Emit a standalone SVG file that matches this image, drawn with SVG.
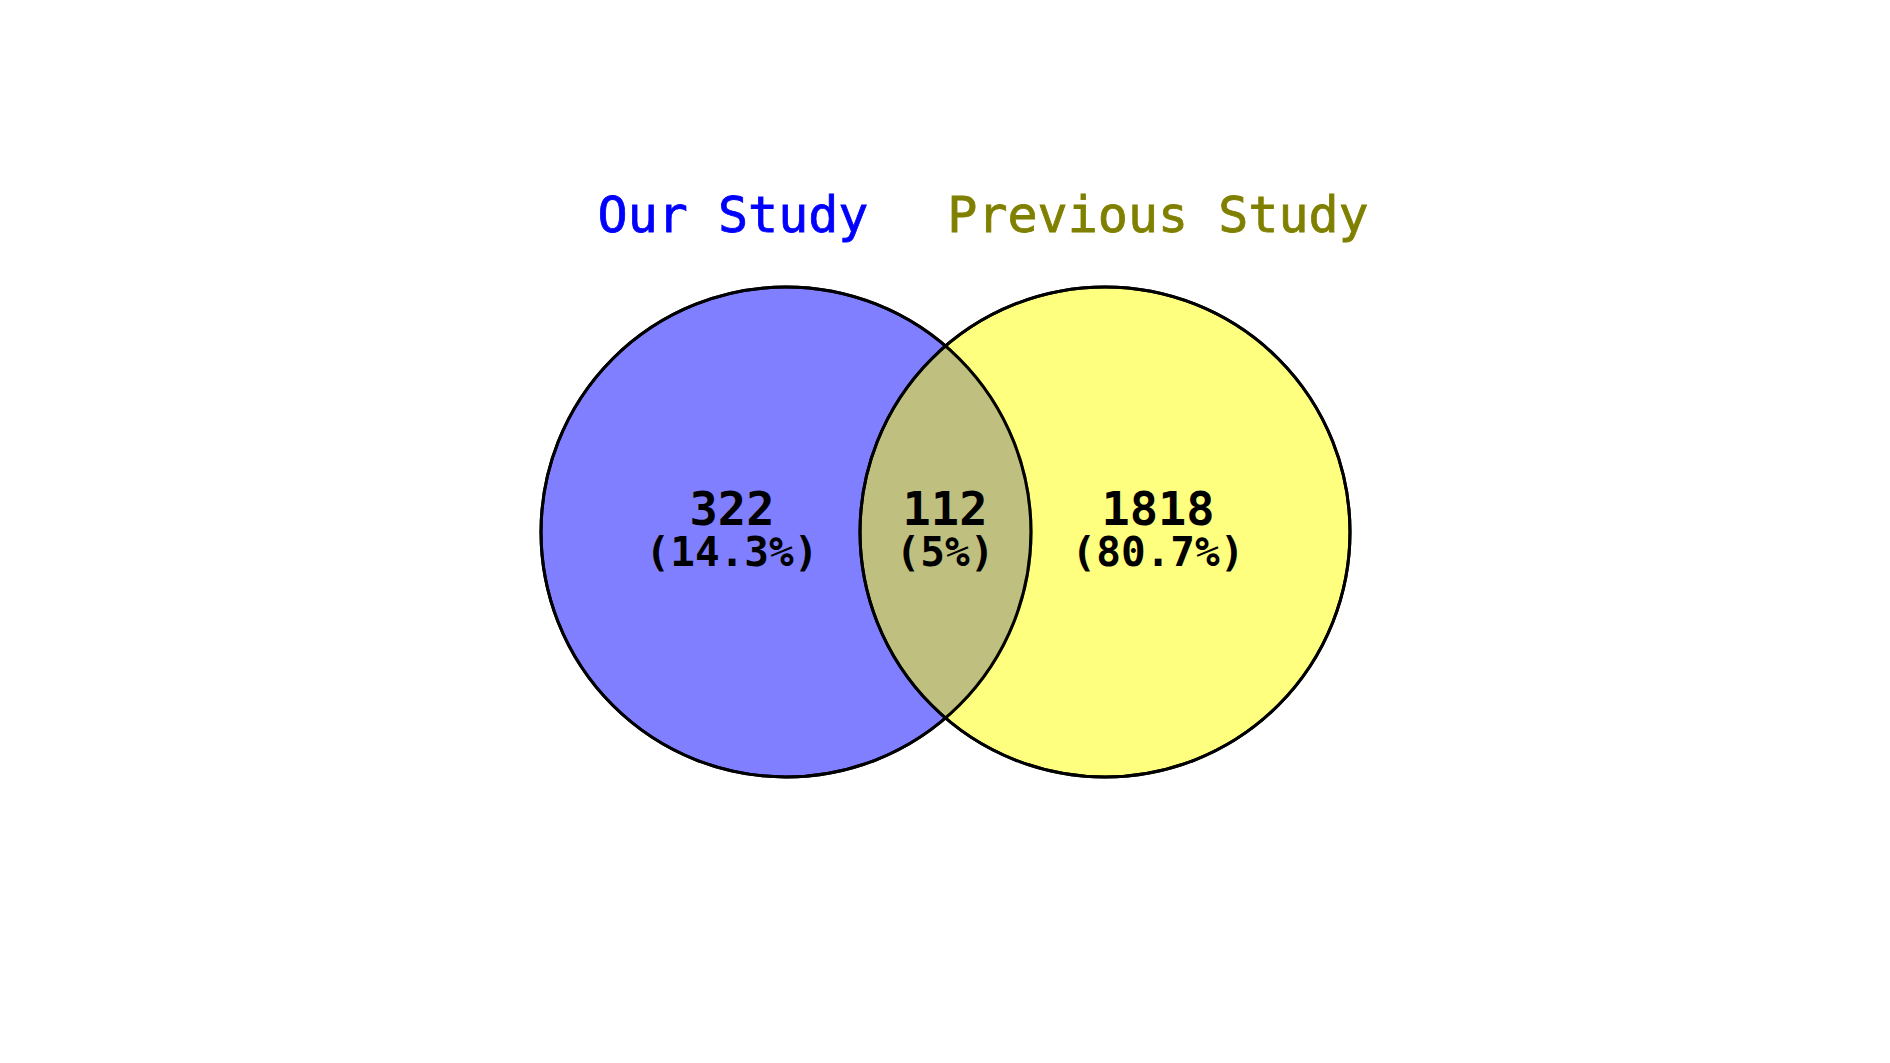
<svg xmlns="http://www.w3.org/2000/svg" width="1890" height="1063" viewBox="0 0 1890 1063">
<style>
.title{font-family:"DejaVu Sans Mono","Liberation Mono",monospace;font-size:50px;text-anchor:middle;stroke-width:0.8px}
.num{font-family:"DejaVu Sans Mono","Liberation Mono",monospace;font-weight:bold;text-anchor:middle;fill:#000}
.big{font-size:47px}
.small{font-size:41px}
.set{stroke:#000;stroke-width:3}
</style>
<rect width="1890" height="1063" fill="#fff"/>
<g id="set-our-study">
<circle class="set" cx="786" cy="532" r="245" fill="#0000ff" fill-opacity="0.5"/>
</g>
<g id="set-previous-study">
<circle class="set" cx="1105" cy="532" r="245" fill="#ffff00" fill-opacity="0.5"/>
</g>
<g id="outlines" fill="none" stroke="#000" stroke-width="3">
<circle cx="786" cy="532" r="245"/>
<circle cx="1105" cy="532" r="245"/>
</g>
<g id="label-our-study"><text class="title" x="733" y="232" fill="#0000ff" stroke="#0000ff">Our Study</text></g>
<g id="label-previous-study"><text class="title" x="1158" y="232" fill="#808000" stroke="#808000">Previous Study</text></g>
<g id="region-left">
<text class="num"><tspan class="big" x="732" y="525">322</tspan><tspan class="small" x="732" y="566">(14.3%)</tspan></text>
</g>
<g id="region-middle">
<text class="num"><tspan class="big" x="945" y="525">112</tspan><tspan class="small" x="945" y="566">(5%)</tspan></text>
</g>
<g id="region-right">
<text class="num"><tspan class="big" x="1158" y="525">1818</tspan><tspan class="small" x="1158" y="566">(80.7%)</tspan></text>
</g>
</svg>
